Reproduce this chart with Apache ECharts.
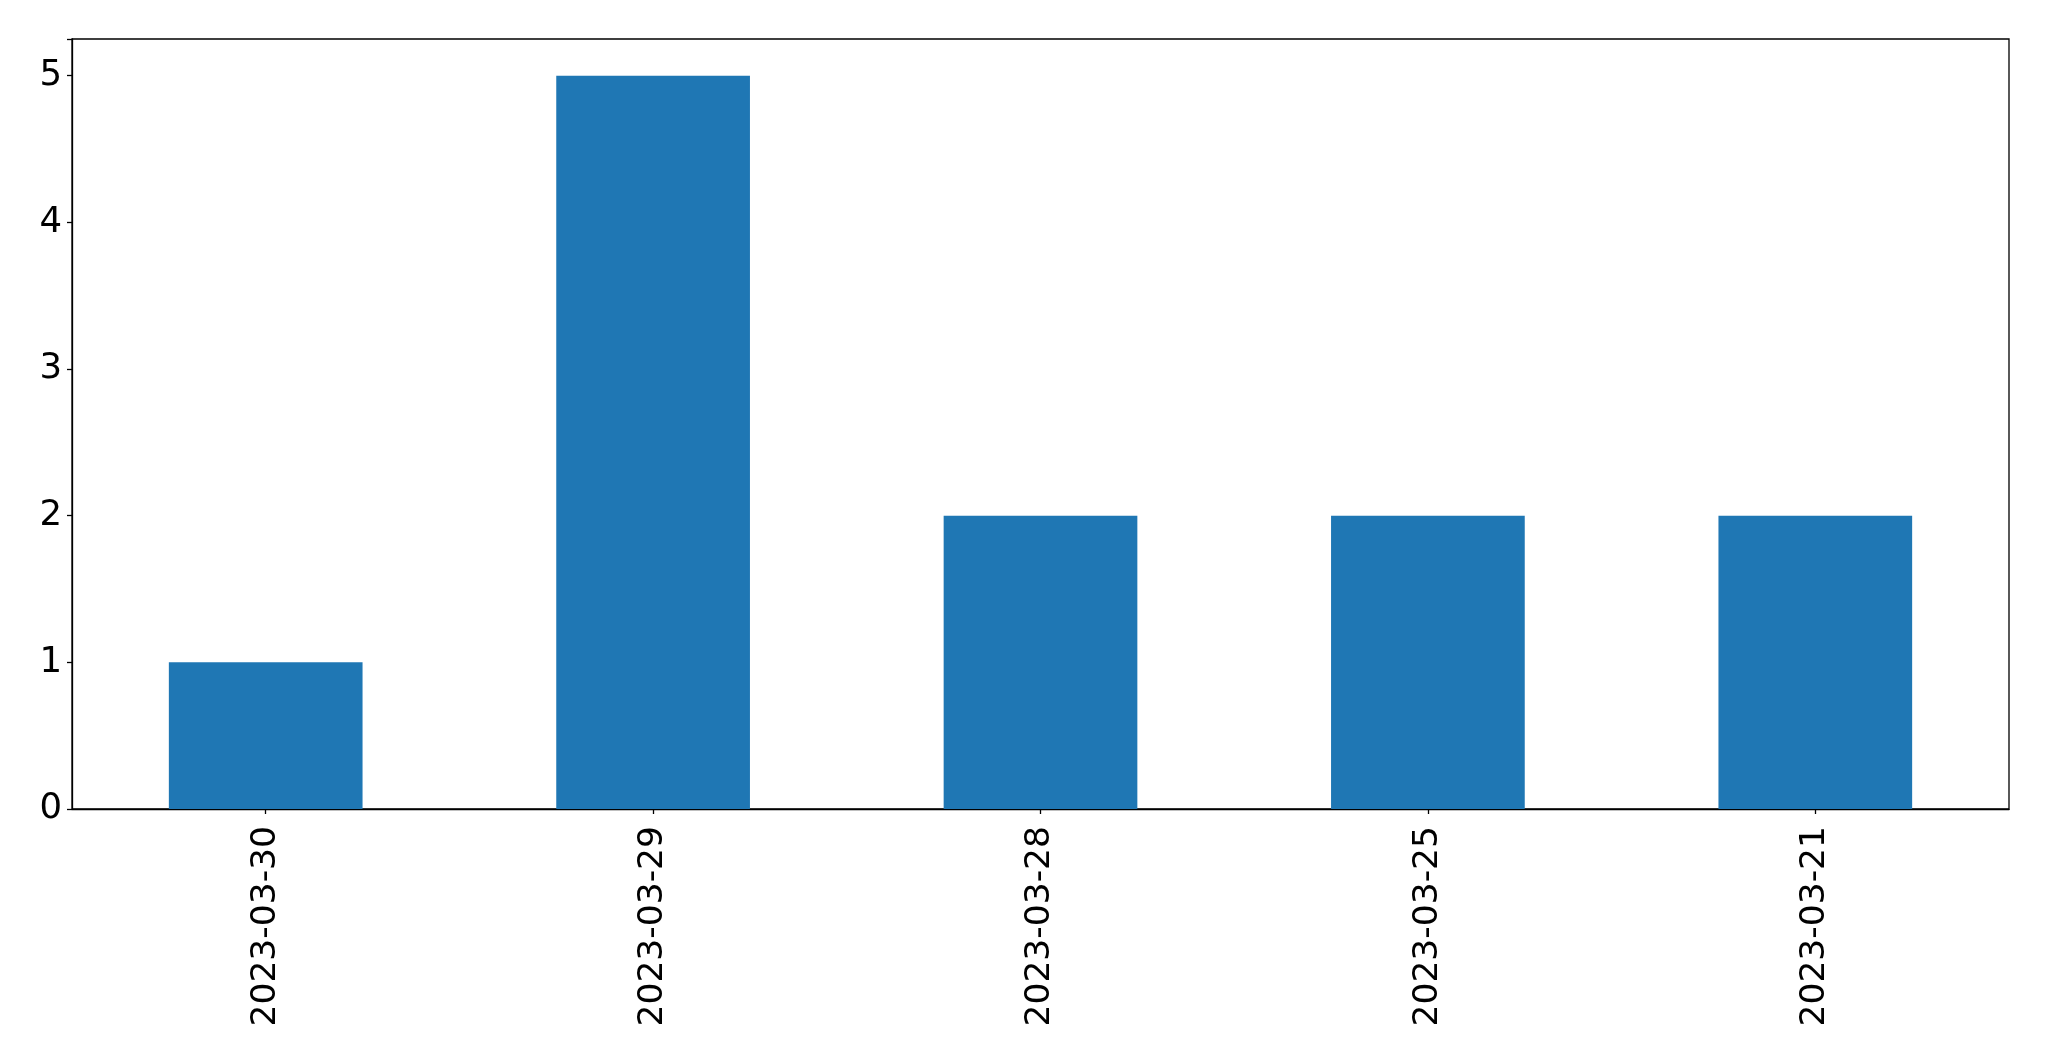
<!DOCTYPE html>
<html><head><meta charset="utf-8">
<script src="https://cdn.jsdelivr.net/npm/echarts@6/dist/echarts.min.js"></script>
<style>html,body{margin:0;padding:0;background:#fff}#c{width:2049px;height:1061px}</style>
</head><body><div id="c"></div>
<script>
const categories = ["2023-03-30", "2023-03-29", "2023-03-28", "2023-03-25", "2023-03-21"];
const counts = [1, 5, 2, 2, 2];
const yTicks = [0, 1, 2, 3, 4, 5];

const chart = echarts.init(document.getElementById('c'), null, {renderer: 'canvas'});
const font = 'DejaVu Sans';
chart.setOption({
  animation: false,
  grid: {left: 72, right: 40, top: 39, bottom: 252, show: true, borderColor: '#000', borderWidth: 1.3, backgroundColor: 'transparent'},
  xAxis: {
    type: 'category', data: categories,
    axisLine: {show: true, lineStyle: {color: '#000', width: 1.3}},
    axisTick: {show: true, alignWithLabel: true, length: 5, lineStyle: {color: '#000', width: 1.3}},
    axisLabel: {rotate: 90, margin: 17, fontSize: 34.5, fontFamily: font, color: '#000'}
  },
  yAxis: {
    type: 'value', min: 0, max: 5.25, interval: 1,
    splitLine: {show: false},
    axisLine: {show: true, lineStyle: {color: '#000', width: 1.3}},
    axisTick: {show: true, length: 5, lineStyle: {color: '#000', width: 1.3}},
    axisLabel: {fontSize: 35.5, fontFamily: font, color: '#000', margin: 10, padding: [8, 0, 0, 0],
      formatter: v => yTicks.includes(v) ? String(v) : ''}
  },
  series: [{type: 'bar', data: counts, barWidth: '50%', itemStyle: {color: '#1f77b4'}}]
});
</script></body></html>
